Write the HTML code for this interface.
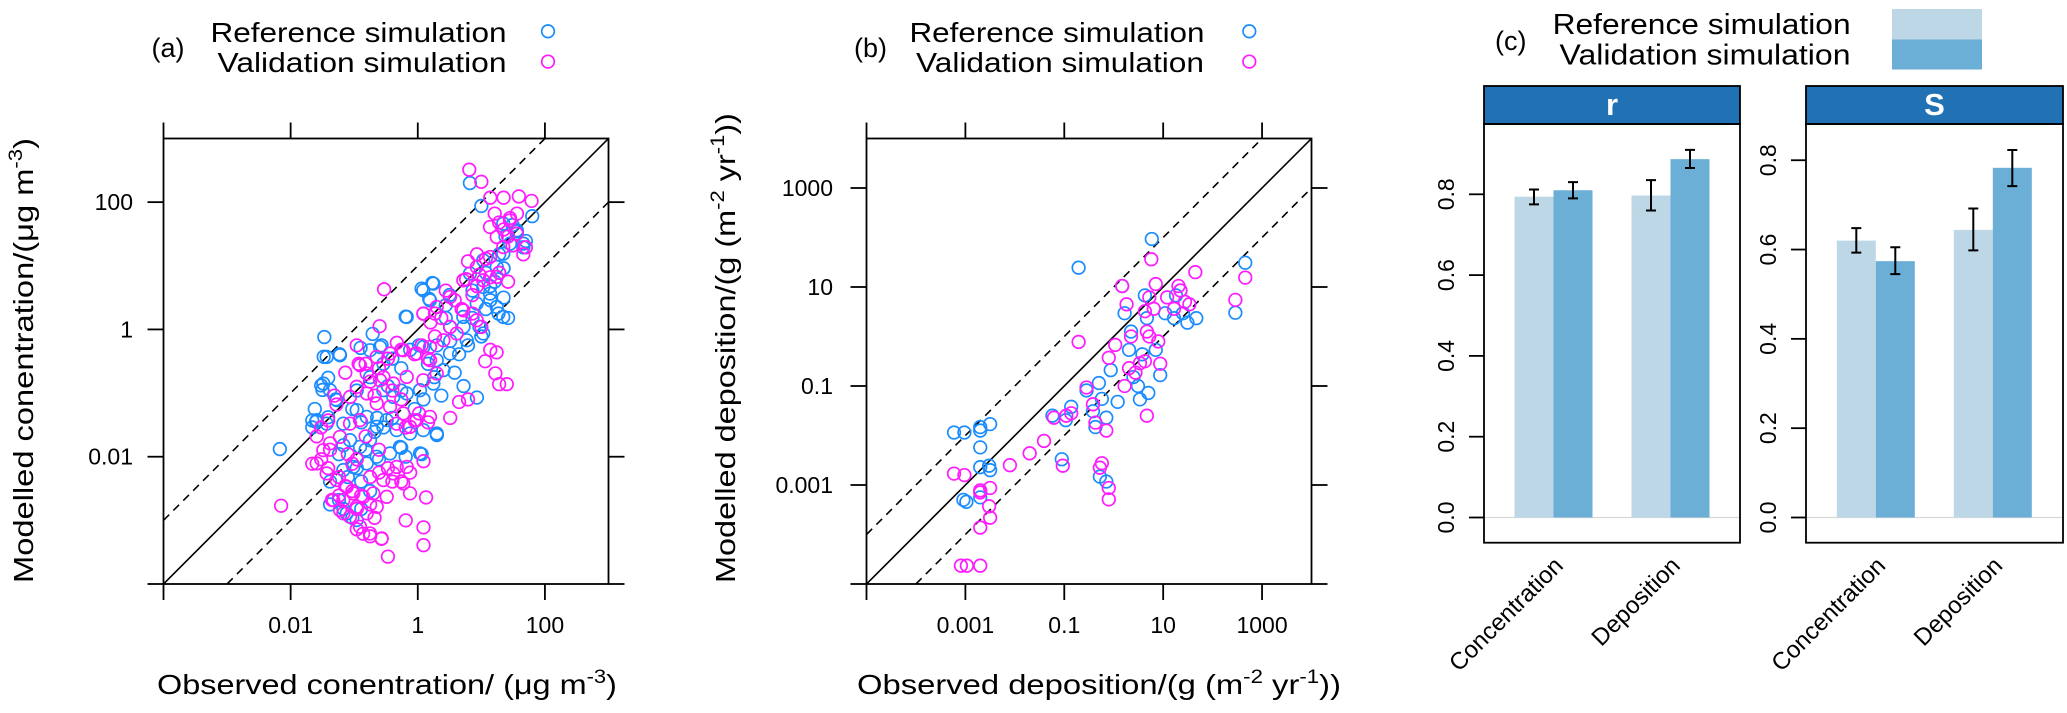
<!DOCTYPE html>
<html><head><meta charset="utf-8">
<style>
html,body{margin:0;padding:0;background:#fff;}
svg{display:block;font-family:"Liberation Sans",Arial,sans-serif;}
</style></head>
<body>
<svg id="fig" width="2067" height="713" viewBox="0 0 2067 713" xmlns="http://www.w3.org/2000/svg">
<rect width="2067" height="713" fill="#fff"/>
<g id="pa"></g>
<g id="pb"></g>
<g id="pc"></g>
</svg>
<script>
// ---------- Panel (a) data: log10 observed / log10 modelled concentration ----------
const aRefX = [-2.17,0.82,1.0,-1.47,-1.48,-1.23,-1.52,-1.41,-1.5,-1.29,-1.6,-1.41,-1.66,0.06,0.23,0.18,-0.19,0.5,0.44,0.93,0.06,0.3,-0.26,-0.19,-0.64,-0.71,-0.57,-0.9,1.49,1.56,1.66,1.7,1.8,1.28,1.38,1.27,1.35,1.42,1.14,1.07,0.97,0.51,0.65,0.79,0.58,0.72,0.16,0.26,0.37,0.09,-0.05,-0.26,-0.47,-0.4,-0.26,-0.12,0.02,-0.54,-0.75,-0.96,-1.03,-0.89,-0.68,-0.54,-0.4,-1.24,-1.1,-1.24,-1.03,-0.89,-0.75,-0.96,-1.38,-1.17,-0.82,-0.61,0.72,0.86,1.07,1.21,0.86,0.44,0.3,1.0,1.14,1.28,1.35,-1.66,-1.62,-1.38,-1.17,-0.89,
 -1.433,-1.224,-1.486,-1.381,-1.276,-1.59,-1.433,-1.171,-0.961,-0.803,-0.646,-0.489,-0.332,-0.122,0.087,0.298,-0.909,-1.066,-0.752,-0.28,0.035,-1.118,-0.961,-1.171,-1.014,-0.803,-0.646,-0.437,-0.542,-0.385,-0.174,0.035,0.245,0.403,0.087,-0.594,-0.752,
 -0.174,0.087,0.245,0.192,0.507,0.716,0.927,1.03,0.821,1.03,1.242,1.345,1.451,1.66,1.556,1.345,1.242,1.03,0.77,0.507,0.298,1.345,1.136];
const aRefY = [-1.88,2.3,1.94,-0.12,-0.43,-0.39,-0.88,-0.76,-0.95,-1.1,-1.45,-1.38,-1.54,0.64,0.73,0.48,0.2,0.54,0.38,-1.07,-1.96,-1.66,-1.86,-2.0,-1.39,-0.07,-0.25,-0.29,1.64,1.54,1.29,1.39,1.78,1.18,1.46,0.25,0.5,0.18,0.68,0.32,0.04,-0.18,-0.39,-0.25,-0.68,-0.89,-0.54,-0.75,-1.04,-1.1,-1.25,-0.96,-0.89,-0.46,-0.61,-0.32,-0.25,-0.54,-0.75,-0.96,-1.25,-1.46,-1.61,-1.54,-1.39,-1.96,-2.32,-2.68,-2.96,-2.82,-2.54,-2.18,-2.39,-1.82,-1.89,-2.04,0.04,0.18,0.89,0.75,0.61,0.18,-0.25,-0.11,0.46,0.89,0.96,-1.43,-1.25,-2.75,-2.82,-2.39,
 -0.432,-0.405,-0.85,-0.955,-1.11,-1.425,-1.48,-1.48,-1.268,-1.374,-1.53,-1.425,-1.582,-1.635,-1.582,-1.635,-1.845,-1.74,-1.74,-1.845,-1.948,-2.89,-2.995,-2.21,-2.16,-2.105,-2.0,-1.948,-0.955,-1.06,-1.006,-0.955,-0.85,-0.64,-0.275,-0.275,-0.327,
 0.196,0.615,0.72,0.458,0.039,0.196,0.407,0.667,0.878,1.086,0.981,1.19,1.348,1.348,1.557,1.662,0.353,-0.064,-0.17,-0.378,-0.484,0.196,0.563];
const aValX = [0.81,1.0,1.14,1.35,1.59,1.79,1.21,1.28,1.35,1.42,1.49,1.66,1.7,1.56,1.45,0.79,0.93,1.07,0.76,0.97,-0.53,-0.6,0.44,0.58,0.69,0.86,1.0,1.14,1.24,1.22,1.28,1.4,1.06,0.65,0.79,0.51,0.09,0.2,0.27,0.06,-0.05,0.16,-0.33,-0.26,-0.47,-0.61,-0.82,-0.93,-0.75,-0.54,-0.4,-0.26,-0.68,-0.96,-1.14,-1.31,-1.28,0.02,0.16,-0.19,-0.05,0.09,-2.15,-0.19,0.09,0.09,0.13,-0.47,-0.57,-0.75,-0.86,-0.96,-1.66,-1.52,-1.38,-1.41,-1.24,-1.14,-1.03,-0.89,-0.75,-0.61,-0.47,-0.4,-0.26,-0.12,-0.96,-1.1,-0.82,-0.61,-1.24,-1.35,-1.17,-0.96,-0.75,-0.68,-1.03,-1.52,-1.59,-1.41,0.37,0.51,0.27,0.86,1.14,1.28,1.42,0.93,
 -0.909,-0.646,-0.437,-0.228,-0.017,0.192,0.298,0.087,-0.174,-0.385,-0.594,-0.803,-0.961,-1.066,-0.803,-0.646,-0.437,-0.228,-0.017,0.192,-0.332,-0.122,-0.909,-1.066,-1.224,-1.381,-1.486,-1.59,-1.433,-1.276,-1.118,-1.014,-0.857,-0.7,-0.542,-0.385,-0.228,-0.122,-0.489,-0.646,-0.803,-0.961,-1.171,-1.329,-1.224,-1.066,-0.909,-0.752,-0.568,-0.332,-0.174,
 0.087,0.298,0.507,0.716,0.927,1.136,1.345,1.242,1.136,0.716,0.927,0.612,0.403,0.192,1.03,1.242,1.556,1.451];
const aValY = [2.51,2.32,2.07,2.07,2.09,2.02,1.82,1.68,1.57,1.46,1.32,1.18,1.29,1.82,1.75,1.07,1.18,1.11,0.79,0.86,0.63,0.05,0.61,0.46,0.32,0.25,0.04,-0.32,-0.36,-0.69,-0.86,-0.86,-0.5,-1.14,-1.1,-1.39,0.25,0.11,-0.11,-0.25,-0.39,-0.46,-0.21,-0.32,-0.46,-0.61,-0.54,-0.54,-0.82,-0.75,-0.96,-1.1,-1.04,-0.25,-0.68,-1.04,-1.18,-1.32,-1.46,-1.54,-1.43,-2.07,-2.77,-3.0,-3.11,-3.39,-2.64,-3.57,-3.29,-3.25,-3.21,-3.14,-2.11,-2.04,-1.89,-2.18,-2.32,-2.46,-2.54,-2.61,-2.32,-2.25,-2.18,-2.39,-2.39,-2.25,-2.04,-1.96,-1.68,-1.89,-2.61,-2.68,-2.89,-2.82,-2.75,-2.96,-2.11,-1.54,-1.68,-1.43,0.18,0.04,0.25,0.54,0.82,0.89,0.75,0.68,
 -0.562,-0.432,-0.378,-0.327,-0.378,-0.484,-0.692,-0.798,-0.746,-0.85,-0.798,-0.692,-0.902,-1.06,-1.006,-1.163,-1.215,-1.32,-1.425,-1.374,-1.48,-1.53,-1.425,-1.48,-1.688,-1.79,-1.896,-2.105,-2.262,-2.367,-2.473,-2.576,-2.63,-2.576,-2.367,-2.262,-2.42,-2.576,-2.63,-2.787,-2.89,-2.787,-2.681,-2.681,-2.838,-2.943,-3.1,-3.206,-3.284,-2.16,-2.16,
 0.248,0.353,0.51,0.772,0.981,1.138,1.295,1.452,1.61,0.3,0.144,-0.064,-0.17,-0.275,0.772,0.825,1.505,1.714];
const aTicks = [-4,-2,0,2];
const aTickLabels = ["","0.01","1","100"];

// ---------- Panel (b) data: log10 observed / log10 modelled deposition ----------
const bRefX = [-3.23,-3.02,-2.7,-2.7,-2.5,-2.7,-2.7,-2.52,-2.5,-3.04,-2.98,-2.7,-1.05,-1.24,-0.97,-0.86,-0.71,0.77,2.66,2.46,-0.55,-0.3,-0.24,-0.15,-0.37,-0.42,-0.15,-0.28,-0.06,0.08,0.17,0.22,0.31,0.35,0.4,0.49,0.58,0.63,0.67,0.7,0.85,0.94,0.53,1.04,1.22,1.4,1.49,1.67,1.26,1.35];
const bRefY = [-1.94,-1.94,-1.83,-1.9,-1.77,-2.24,-2.64,-2.61,-2.7,-3.3,-3.34,-3.25,-2.48,-1.6,-1.69,-1.42,1.39,1.97,1.49,0.48,-1.09,-0.94,-1.26,-1.64,-1.83,-1.51,-2.93,-2.83,-0.68,-1.32,1.02,0.47,-0.27,0.1,-0.82,-1.0,-0.36,0.83,0.37,-1.14,-0.27,-0.78,-1.27,0.47,0.37,0.47,0.28,0.37,0.83,0.93];
const bValX = [-3.23,-3.02,-3.09,-2.97,-2.7,-2.7,-2.7,-2.5,-2.52,-2.5,-2.7,-2.1,-1.7,-1.41,-1.21,-1.03,-0.96,-0.86,-0.71,-0.55,-0.42,-0.37,-0.15,-0.28,-0.24,-0.1,-0.1,-0.1,0.03,0.17,0.26,0.31,0.35,0.22,0.44,0.53,0.63,0.63,0.67,0.72,0.76,0.67,0.85,0.9,0.94,0.72,0.81,1.08,1.22,1.31,1.35,1.44,1.53,1.65,2.46,2.66];
const bValY = [-2.77,-2.8,-4.63,-4.63,-4.63,-3.11,-3.15,-3.06,-3.43,-3.66,-3.86,-2.6,-2.36,-2.11,-1.64,-2.61,-1.6,-1.55,-0.11,-1.03,-1.37,-1.74,-1.9,-2.65,-2.56,-3.06,-3.29,-0.43,-0.17,1.02,0.65,-0.64,0.0,-1.0,-0.73,-0.54,-0.5,0.51,0.1,0.0,1.56,-1.6,1.06,-0.1,-0.55,0.79,0.56,0.79,0.56,1.02,0.93,0.7,0.65,1.3,0.74,1.19];
const bTicks = [-5,-3,-1,1,3];
const bTickLabels = ["","0.001","0.1","10","1000"];

// ---------- Panel (c) data ----------
const cCategories = ["Concentration","Deposition"];
const rRef = [0.794,0.797];
const rRefLo = [0.775,0.760];
const rRefHi = [0.812,0.835];
const rVal = [0.810,0.887];
const rValLo = [0.790,0.865];
const rValHi = [0.830,0.910];
const sRef = [0.620,0.644];
const sRefLo = [0.593,0.598];
const sRefHi = [0.648,0.692];
const sVal = [0.574,0.783];
const sValLo = [0.545,0.742];
const sValHi = [0.605,0.823];
const cTicks = [0,0.2,0.4,0.6,0.8];
const cTickLabels = ["0.0","0.2","0.4","0.6","0.8"];

const NS = "http://www.w3.org/2000/svg";
function mk(parent, tag, attrs, text){
  const e = document.createElementNS(NS, tag);
  for (const k in attrs) e.setAttribute(k, attrs[k]);
  if (text !== undefined) e.textContent = text;
  parent.appendChild(e);
  return e;
}
const BLUE = "#1a8cff", MAG = "#ff1aff";

function scatter(g, cfg){
  const {x0,x1,y0,y1,dmin,dmax} = cfg;
  const sx = v => x0 + (v-dmin)/(dmax-dmin)*(x1-x0);
  const sy = v => y1 - (v-dmin)/(dmax-dmin)*(y1-y0);
  const clipId = cfg.id + "-clip";
  const defs = mk(g, "defs", {});
  const cp = mk(defs, "clipPath", {id: clipId});
  mk(cp, "rect", {x:x0, y:y0, width:x1-x0, height:y1-y0});
  const lines = mk(g, "g", {"clip-path":"url(#"+clipId+")"});
  
  
  const l1 = mk(lines, "line", {x1:sx(dmin), y1:sy(dmin), x2:sx(dmax), y2:sy(dmax), stroke:"#000", "stroke-width":1.6});
  
  
  const l2 = mk(lines, "line", {x1:sx(dmin), y1:sy(dmin+1), x2:sx(dmax-1), y2:sy(dmax), stroke:"#000", "stroke-width":1.6, "stroke-dasharray":"8,6"});
  
  
  const l3 = mk(lines, "line", {x1:sx(dmin+1), y1:sy(dmin), x2:sx(dmax), y2:sy(dmax-1), stroke:"#000", "stroke-width":1.6, "stroke-dasharray":"8,6"});
  
  
  const series = [[cfg.refX, cfg.refY, BLUE, 'reference-points'], [cfg.valX, cfg.valY, MAG, 'validation-points']];
  for (const [xs, ys, col, nm] of series){
    const sg = mk(g, "g", {"clip-path":"url(#"+clipId+")"});
    
    
    for (let i=0;i<xs.length;i++){
      const c = mk(sg, "circle", {cx:sx(xs[i]), cy:sy(ys[i]), r:6.3, fill:"none", stroke:col, "stroke-width":1.7});
      
      
    }
  }
  const box = mk(g, "rect", {x:x0, y:y0, width:x1-x0, height:y1-y0, fill:"none", stroke:"#000", "stroke-width":1.8});
  
  
  const tk = mk(g, "g", {stroke:"#000", "stroke-width":1.8});
  
  
  const L = 16;
  cfg.ticks.forEach(t => {
    const X = sx(t), Y = sy(t);
    mk(tk, "line", {x1:X, y1:y1, x2:X, y2:y1+L});
    mk(tk, "line", {x1:X, y1:y0, x2:X, y2:y0-L});
    mk(tk, "line", {x1:x0, y1:Y, x2:x0-L, y2:Y});
    mk(tk, "line", {x1:x1, y1:Y, x2:x1+L, y2:Y});
  });
  const xl = mk(g, "g", {"font-size":23, "text-anchor":"middle"});
  
  
  const yl = mk(g, "g", {"font-size":23, "text-anchor":"end"});
  
  
  cfg.ticks.forEach((t,i) => {
    if (!cfg.tickLabels[i]) return;
    mk(xl, "text", {x:sx(t), y:633}, cfg.tickLabels[i]);
    mk(yl, "text", {x:cfg.yLabX, y:sy(t)+8}, cfg.tickLabels[i]);
  });
}

const pa = document.getElementById("pa");
scatter(pa, {id:"a", x0:163.5, x1:608.5, y0:138.5, y1:584, dmin:-4, dmax:3, refX:aRefX, refY:aRefY, valX:aValX, valY:aValY, ticks:aTicks, tickLabels:aTickLabels, yLabX:133});
const pb = document.getElementById("pb");
scatter(pb, {id:"b", x0:866.5, x1:1311.5, y0:138.5, y1:584, dmin:-5, dmax:4, refX:bRefX, refY:bRefY, valX:bValX, valY:bValY, ticks:bTicks, tickLabels:bTickLabels, yLabX:833});

const pc = document.getElementById("pc");
function barPanel(cfg){
  const g = mk(pc, "g", {});
  
  
  const {x0,x1,top,stripB,bot,zeroY,unit} = cfg;
  const sy = v => zeroY - v*unit;
  const strip = mk(g, "rect", {x:x0, y:top, width:x1-x0, height:stripB-top, fill:"#2171b5", stroke:"#000", "stroke-width":1.8});
  
  
  const st = mk(g, "text", {x:(x0+x1)/2, y:stripB-9, "font-size":31, "font-weight":"bold", fill:"#fff", "text-anchor":"middle"}, cfg.strip);
  
  
  const base = mk(g, "line", {x1:x0, y1:zeroY, x2:x1, y2:zeroY, stroke:"#d8d8d8", "stroke-width":1.2});
  
  
  const bw = cfg.bw;
  cfg.cats.forEach((c,i) => {
    const cx = cfg.centers[i];
    const specs = [[cx-bw, cfg.ref[i], cfg.refLo[i], cfg.refHi[i], "#bdd7e7", "bar-reference-"+c.toLowerCase()],
                   [cx, cfg.val[i], cfg.valLo[i], cfg.valHi[i], "#6baed6", "bar-validation-"+c.toLowerCase()]];
    specs.forEach(([bx, v, lo, hi, col, nm]) => {
      const b = mk(g, "rect", {x:bx, y:sy(v), width:bw, height:sy(0)-sy(v), fill:col});
      
      
      const ex = bx + bw/2;
      const e = mk(g, "path", {d:`M${ex},${sy(lo)}V${sy(hi)}M${ex-5},${sy(lo)}H${ex+5}M${ex-5},${sy(hi)}H${ex+5}`, stroke:"#000", "stroke-width":2, fill:"none"});
      
      
    });
    const lab = mk(g, "text", {x:0, y:0, "font-size":24, "text-anchor":"end", transform:`translate(${cx+11},${cfg.labY}) rotate(-45)`}, c);
    
    
  });
  const box = mk(g, "rect", {x:x0, y:stripB, width:x1-x0, height:bot-stripB, fill:"none", stroke:"#000", "stroke-width":1.8});
  
  
  cfg.ticks.forEach((t,i) => {
    const Y = sy(t);
    const tl = mk(g, "line", {x1:x0, y1:Y, x2:x0-15, y2:Y, stroke:"#000", "stroke-width":1.8});
    
    
    const tx = mk(g, "text", {x:0, y:0, "font-size":23, "text-anchor":"middle", transform:`translate(${x0-30},${Y}) rotate(-90)`}, cfg.tickLabels[i]);
    
    
  });
}
barPanel({name:"panel-c-r", strip:"r", x0:1484, x1:1740, top:86, stripB:124, bot:542.7, zeroY:517.5, unit:404,
  cats:cCategories, centers:[1553.5,1670.5], bw:39, ref:rRef, refLo:rRefLo, refHi:rRefHi, val:rVal, valLo:rValLo, valHi:rValHi,
  ticks:cTicks, tickLabels:cTickLabels, labY:567});
barPanel({name:"panel-c-s", strip:"S", x0:1806, x1:2063, top:86, stripB:124, bot:542.7, zeroY:517.5, unit:446.6,
  cats:cCategories, centers:[1875.8,1992.8], bw:39, ref:sRef, refLo:sRefLo, refHi:sRefHi, val:sVal, valLo:sValLo, valHi:sValHi,
  ticks:cTicks, tickLabels:cTickLabels, labY:567});
</script>

<script>
const fig = document.getElementById("fig");
function T(attrs, html, name){
  const e = document.createElementNS(NS, "text");
  for (const k in attrs) e.setAttribute(k, attrs[k]);
  e.innerHTML = html;
  
  
  fig.appendChild(e);
  return e;
}
function C(cx, cy, col, name){
  const e = document.createElementNS(NS, "circle");
  e.setAttribute("cx", cx); e.setAttribute("cy", cy); e.setAttribute("r", 6.3);
  e.setAttribute("fill", "none"); e.setAttribute("stroke", col); e.setAttribute("stroke-width", 1.7);
  
  
  fig.appendChild(e);
}
T({x:151.5, y:57, "font-size":27}, "(a)", "panel-a-tag");
T({x:210.5, y:42, "font-size":28, textLength:296, lengthAdjust:"spacingAndGlyphs"}, "Reference simulation", "legend-reference-label");
T({x:217.5, y:72, "font-size":28, textLength:289, lengthAdjust:"spacingAndGlyphs"}, "Validation simulation", "legend-validation-label");
C(548, 31.3, BLUE, "legend-reference-marker");
C(548, 61.6, MAG, "legend-validation-marker");
T({x:854, y:57, "font-size":27}, "(b)", "panel-b-tag");
T({x:909.5, y:42, "font-size":28, textLength:295, lengthAdjust:"spacingAndGlyphs"}, "Reference simulation", "legend-reference-label");
T({x:916, y:72, "font-size":28, textLength:288, lengthAdjust:"spacingAndGlyphs"}, "Validation simulation", "legend-validation-label");
C(1249.3, 31.3, BLUE, "legend-reference-marker");
C(1249.3, 61.6, MAG, "legend-validation-marker");
T({x:1495, y:50, "font-size":27}, "(c)", "panel-c-tag");
T({x:1552.6, y:34, "font-size":29, textLength:298, lengthAdjust:"spacingAndGlyphs"}, "Reference simulation", "legend-reference-label");
T({x:1559.5, y:64.5, "font-size":29, textLength:291, lengthAdjust:"spacingAndGlyphs"}, "Validation simulation", "legend-validation-label");
(function(){
  const r1 = document.createElementNS(NS,"rect");
  r1.setAttribute("x",1892); r1.setAttribute("y",9); r1.setAttribute("width",90); r1.setAttribute("height",30.5); r1.setAttribute("fill","#bdd7e7");
  
  
  fig.appendChild(r1);
  const r2 = document.createElementNS(NS,"rect");
  r2.setAttribute("x",1892); r2.setAttribute("y",39.5); r2.setAttribute("width",90); r2.setAttribute("height",30); r2.setAttribute("fill","#6baed6");
  
  
  fig.appendChild(r2);
})();
T({x:157, y:694, "font-size":28, textLength:460, lengthAdjust:"spacingAndGlyphs"}, 'Observed conentration/ (μg m<tspan dy="-11" font-size="19">-3</tspan><tspan dy="11">)</tspan>', "x-axis-title-a");
T({x:0, y:0, "font-size":28, textLength:445, lengthAdjust:"spacingAndGlyphs", transform:"translate(33,583) rotate(-90)"}, 'Modelled conentration/(μg m<tspan dy="-11" font-size="19">-3</tspan><tspan dy="11">)</tspan>', "y-axis-title-a");
T({x:857, y:694, "font-size":28, textLength:484, lengthAdjust:"spacingAndGlyphs"}, 'Observed deposition/(g (m<tspan dy="-11" font-size="19">-2</tspan><tspan dy="11"> yr</tspan><tspan dy="-11" font-size="19">-1</tspan><tspan dy="11">))</tspan>', "x-axis-title-b");
T({x:0, y:0, "font-size":28, textLength:470, lengthAdjust:"spacingAndGlyphs", transform:"translate(735,583) rotate(-90)"}, 'Modelled deposition/(g (m<tspan dy="-11" font-size="19">-2</tspan><tspan dy="11"> yr</tspan><tspan dy="-11" font-size="19">-1</tspan><tspan dy="11">))</tspan>', "y-axis-title-b");
</script>
</body></html>
